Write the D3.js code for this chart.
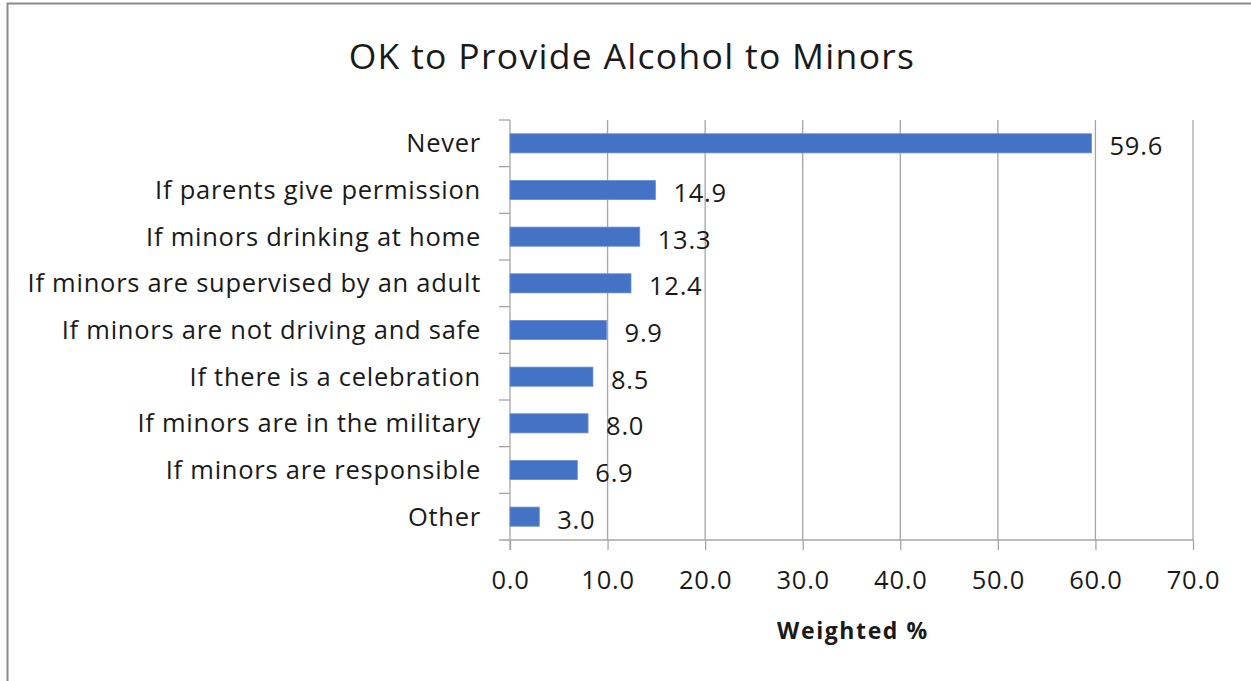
<!DOCTYPE html>
<html>
<head>
<meta charset="utf-8">
<script src="https://cdn.jsdelivr.net/npm/d3@7"></script>
<style>
  html, body { margin: 0; padding: 0; background: #fff; overflow: hidden; }
  svg { display: block; }
  text { font-family: "Open Sans", "Noto Sans", sans-serif; fill: #1a1a1a; }
</style>
</head>
<body>
<svg id="chart" width="1251" height="681"></svg>
<script>
// Responses, weighted %
const categories = [
  "Never",
  "If parents give permission",
  "If minors drinking at home",
  "If minors are supervised by an adult",
  "If minors are not driving and safe",
  "If there is a celebration",
  "If minors are in the military",
  "If minors are responsible",
  "Other"
];
const values = [59.6, 14.9, 13.3, 12.4, 9.9, 8.5, 8.0, 6.9, 3.0];
const xTicks = [0, 10, 20, 30, 40, 50, 60, 70];
const titleText = "OK to Provide Alcohol to Minors";
const xAxisTitle = "Weighted %";

const svg = d3.select("#chart");
const gridColor = "#a6a6a6";
const labelSize = "25.5px";
const labelSpacing = "0.75px";

// outer chart frame (left and top edges fall inside the page)
svg.append("path")
  .attr("d", "M7.5,700 L7.5,3.5 L1260,3.5")
  .attr("fill", "none")
  .attr("stroke", "#8c8c8c").attr("stroke-width", 2);

const plot = { left: 510, right: 1193, top: 120, bottom: 540 };

const x = d3.scaleLinear().domain([0, 70]).range([plot.left, plot.right]);
const y = d3.scaleBand().domain(categories).range([plot.top, plot.bottom]).paddingInner(0.59).paddingOuter(0.295);

// vertical gridlines
svg.append("g").selectAll("line")
  .data(xTicks.filter(d => d > 0))
  .join("line")
  .attr("x1", d => x(d)).attr("x2", d => x(d))
  .attr("y1", plot.top).attr("y2", plot.bottom)
  .attr("stroke", gridColor).attr("stroke-width", 1.3);

// x axis
const xAxis = d3.axisBottom(x).tickValues(xTicks).tickFormat(d3.format(".1f")).tickSize(10).tickSizeOuter(0).tickPadding(21);
const gx = svg.append("g").attr("transform", `translate(0,${plot.bottom})`).call(xAxis);
gx.select(".domain").remove();
gx.selectAll(".tick line").attr("stroke", gridColor).attr("stroke-width", 1.3);
gx.selectAll(".tick text")
  .style("font-size", labelSize).style("letter-spacing", labelSpacing)
  .style("font-family", "'Open Sans', sans-serif")
  .attr("fill", "#1a1a1a");
svg.append("line")
  .attr("x1", plot.left - 11).attr("x2", plot.right)
  .attr("y1", plot.bottom).attr("y2", plot.bottom)
  .attr("stroke", gridColor).attr("stroke-width", 1.3);

// y axis line and category boundary ticks
svg.append("line")
  .attr("x1", plot.left).attr("x2", plot.left)
  .attr("y1", plot.top).attr("y2", plot.bottom + 10)
  .attr("stroke", gridColor).attr("stroke-width", 1.3);
const step = y.step();
svg.append("g").selectAll("line")
  .data(d3.range(categories.length))
  .join("line")
  .attr("x1", plot.left - 11).attr("x2", plot.left)
  .attr("y1", i => plot.top + i * step).attr("y2", i => plot.top + i * step)
  .attr("stroke", gridColor).attr("stroke-width", 1.3);

// category labels
svg.append("g").selectAll("text")
  .data(categories)
  .join("text")
  .attr("x", 481)
  .attr("y", d => y(d) + y.bandwidth() / 2)
  .attr("dy", "0.35em")
  .attr("text-anchor", "end")
  .style("font-size", labelSize).style("letter-spacing", labelSpacing)
  .text(d => d);

// bars
svg.append("g").selectAll("rect")
  .data(values)
  .join("rect")
  .attr("x", x(0))
  .attr("y", (d, i) => y(categories[i]))
  .attr("width", d => x(d) - x(0))
  .attr("height", y.bandwidth())
  .attr("fill", "#4472c4")
  .attr("stroke", "#6a8fd4").attr("stroke-width", 0.8);

// value labels
svg.append("g").selectAll("text")
  .data(values)
  .join("text")
  .attr("x", d => x(d) + 18)
  .attr("y", (d, i) => y(categories[i]) + y.bandwidth() / 2 + 3)
  .attr("dy", "0.35em")
  .style("font-size", labelSize).style("letter-spacing", labelSpacing)
  .text(d => d.toFixed(1));

// title
svg.append("text")
  .attr("x", 632).attr("y", 57)
  .attr("dy", "0.35em")
  .attr("text-anchor", "middle")
  .style("font-size", "35.5px").style("letter-spacing", "1.3px")
  .text(titleText);

// axis title
svg.append("text")
  .attr("x", 853).attr("y", 631)
  .attr("dy", "0.35em")
  .attr("text-anchor", "middle")
  .style("font-size", "23px").style("font-weight", "bold").style("letter-spacing", "1.6px")
  .text(xAxisTitle);
</script>
</body>
</html>
